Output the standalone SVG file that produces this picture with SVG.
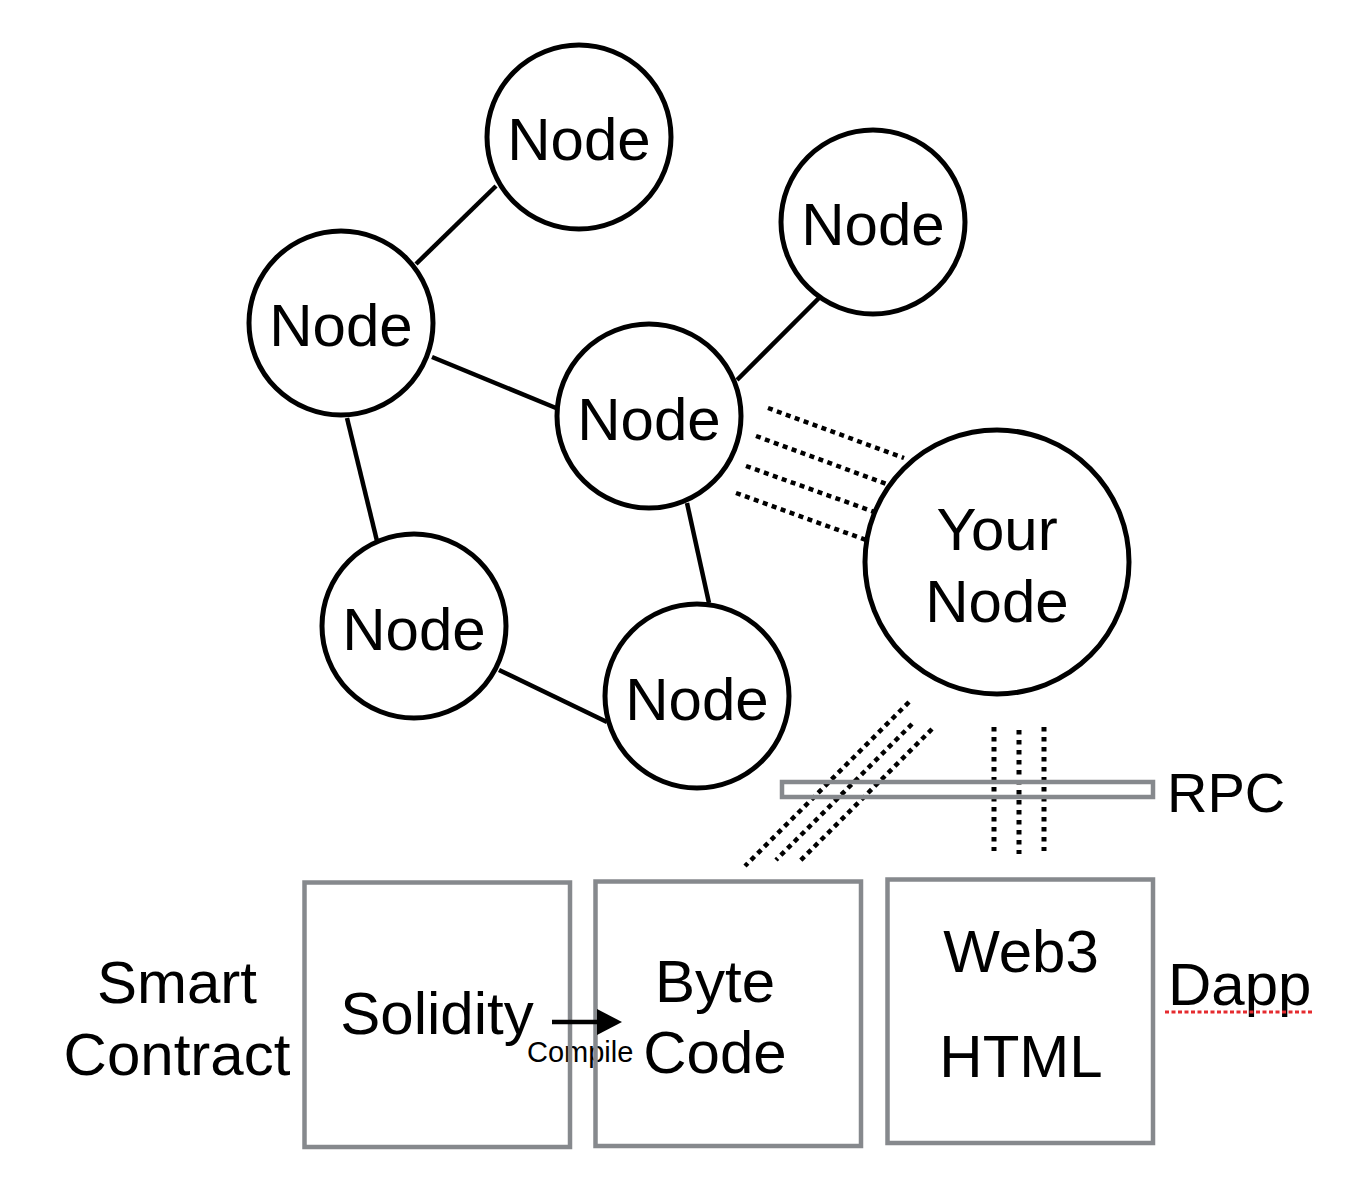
<svg xmlns="http://www.w3.org/2000/svg" width="1372" height="1198" viewBox="0 0 1372 1198">
<style>
.bg{fill:#ffffff}
.node circle{fill:#ffffff;stroke:#000000;stroke-width:5}
.t{font-family:"Liberation Sans",Arial,Helvetica,sans-serif;font-size:60px;fill:#000000;text-anchor:middle}
.ts{font-family:"Liberation Sans",Arial,Helvetica,sans-serif;font-size:60px;fill:#000000;text-anchor:start}
.edge{stroke:#000000;stroke-width:4.5;fill:none}
.dot{stroke:#000000;stroke-width:4.5;stroke-dasharray:5 4.5;fill:none}
.vdot{stroke:#000000;stroke-width:5;stroke-dasharray:4.5 5.5;fill:none}
.box{fill:none;stroke:#86898d;stroke-width:4.5}
</style>
<defs>
<marker id="arrow" markerUnits="userSpaceOnUse" markerWidth="26" markerHeight="26" refX="2" refY="13" orient="auto">
<path d="M0,0 L25,13 L0,26 Z" fill="#000000"/>
</marker>
</defs>
<rect class="bg" x="0" y="0" width="1372" height="1198"/>
<g id="connectors">
<line class="edge" x1="416" y1="264" x2="496" y2="186"/>
<line class="edge" x1="432" y1="357" x2="556" y2="408"/>
<line class="edge" x1="347" y1="418" x2="377" y2="541"/>
<line class="edge" x1="499" y1="670" x2="607" y2="722"/>
<line class="edge" x1="687" y1="503" x2="709" y2="603"/>
<line class="edge" x1="737" y1="380" x2="819" y2="298"/>
<line class="dot" x1="768" y1="408" x2="904" y2="458"/>
<line class="dot" x1="756" y1="436" x2="892" y2="486"/>
<line class="dot" x1="746" y1="466" x2="880" y2="514"/>
<line class="dot" x1="736" y1="493" x2="866" y2="540"/>
<line class="dot" x1="909" y1="702" x2="745" y2="866"/>
<line class="dot" x1="912" y1="724" x2="776" y2="860"/>
<line class="dot" x1="932" y1="729" x2="798" y2="863"/>
<line class="vdot" x1="994" y1="727" x2="994" y2="851"/>
<line class="vdot" x1="1019" y1="730" x2="1019" y2="854"/>
<line class="vdot" x1="1044" y1="727" x2="1044" y2="851"/>
</g>
<g id="node-top" class="node"><circle cx="579" cy="137" r="92"/><text class="t" x="579" y="160">Node</text></g>
<g id="node-topright" class="node"><circle cx="873" cy="222" r="92"/><text class="t" x="873" y="245">Node</text></g>
<g id="node-left" class="node"><circle cx="341" cy="323" r="92"/><text class="t" x="341" y="346">Node</text></g>
<g id="node-center" class="node"><circle cx="649" cy="416" r="92"/><text class="t" x="649" y="440">Node</text></g>
<g id="node-bottomleft" class="node"><circle cx="414" cy="626" r="92"/><text class="t" x="414" y="650">Node</text></g>
<g id="node-bottom" class="node"><circle cx="697" cy="696" r="92"/><text class="t" x="697" y="720">Node</text></g>
<g id="node-your" class="node"><circle cx="997" cy="562" r="132"/><text class="t" x="997" y="550">Your</text><text class="t" x="997" y="622">Node</text></g>
<g id="rpc"><rect class="box" x="782" y="782" width="371" height="15"/><text class="ts" x="1167" y="812" style="font-size:56px">RPC</text></g>
<g id="smart-contract-label"><text class="t" x="177" y="1003">Smart</text><text class="t" x="177" y="1075">Contract</text></g>
<g id="compile-label"><text class="ts" x="527" y="1062" style="font-size:29px">Compile</text></g>
<g id="solidity"><rect class="box" x="304.5" y="882.5" width="265.5" height="264.5"/><text class="t" x="437" y="1034">Solidity</text></g>
<g id="bytecode"><rect class="box" x="595.5" y="881.5" width="265.5" height="264.5"/><text class="t" x="715" y="1002">Byte</text><text class="t" x="715" y="1073">Code</text></g>
<g id="web3"><rect class="box" x="887.5" y="879.5" width="265.5" height="263.5"/><text class="t" x="1021" y="972">Web3</text><text class="t" x="1021" y="1077">HTML</text></g>
<g id="compile-arrow"><line class="edge" x1="552" y1="1022" x2="599" y2="1022" marker-end="url(#arrow)"/></g>
<g id="dapp-label"><text class="ts" x="1168" y="1005">Dapp</text><line x1="1165" y1="1012" x2="1313" y2="1012" stroke="#e52b2f" stroke-width="3" stroke-dasharray="4 2.5"/></g>
</svg>
